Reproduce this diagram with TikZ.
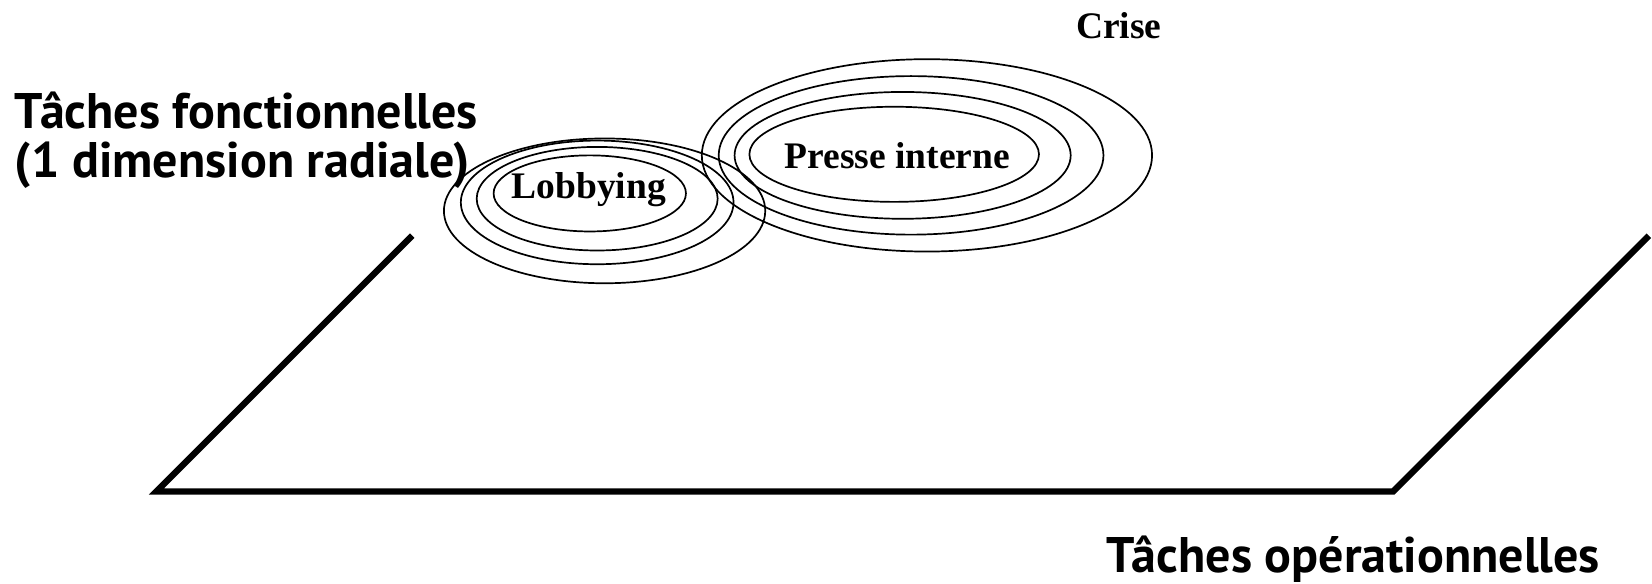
\documentclass[tikz,border=0pt]{standalone}
\usepackage{fontspec}
\setmainfont{Liberation Serif}
\newfontfamily\labelsans{PT Sans}
\tikzset{
  axisline/.style={line width=6.3pt, line cap=butt, line join=miter},
  ring/.style={line width=1.7pt},
  sanslabel/.style={inner sep=0pt, anchor=base west, font=\labelsans\bfseries\fontsize{50}{56}\selectfont},
  seriflabel/.style={inner sep=0pt, font=\bfseries\fontsize{37.5}{42}\selectfont},
}
\begin{document}
\begin{tikzpicture}[x=1.057pt,y=-1.057pt]
\useasboundingbox (0,0) rectangle (1563,552.5);
% axes
\coordinate (lt) at (390,223);
\coordinate (lb) at (148,465);
\coordinate (rb) at (1318,465);
\coordinate (rt) at (1560,223);
\draw[axisline] (lt) -- (lb) -- (rb) -- (rt);
% lobbying rings
\draw[ring] (558,183) ellipse [x radius=91, y radius=36];
\draw[ring] (565,188) ellipse [x radius=114, y radius=49];
\draw[ring] (565,191.5) ellipse [x radius=129, y radius=58.5];
\draw[ring] (572,199.5) ellipse [x radius=152, y radius=68.5];
% presse rings
\draw[ring] (846,146) ellipse [x radius=137, y radius=45];
\draw[ring] (854,147) ellipse [x radius=159, y radius=60];
\draw[ring] (862,147) ellipse [x radius=182, y radius=75];
\draw[ring] (877,147) ellipse [x radius=213, y radius=91];
% labels
\node[seriflabel] (lob) at (557,179) {Lobbying};
\node[seriflabel] (presse) at (849,147) {Presse interne};
\node[seriflabel, anchor=base west] (crise) at (1018,36) {Crise};
\node[sanslabel] (fonc) at (14,122) {Tâches fonctionnelles};
\node[sanslabel] (radial) at (14,168) {(1 dimension radiale)};
\node[sanslabel] (oper) at (1047,542) {Tâches opérationnelles};
\end{tikzpicture}
\end{document}
